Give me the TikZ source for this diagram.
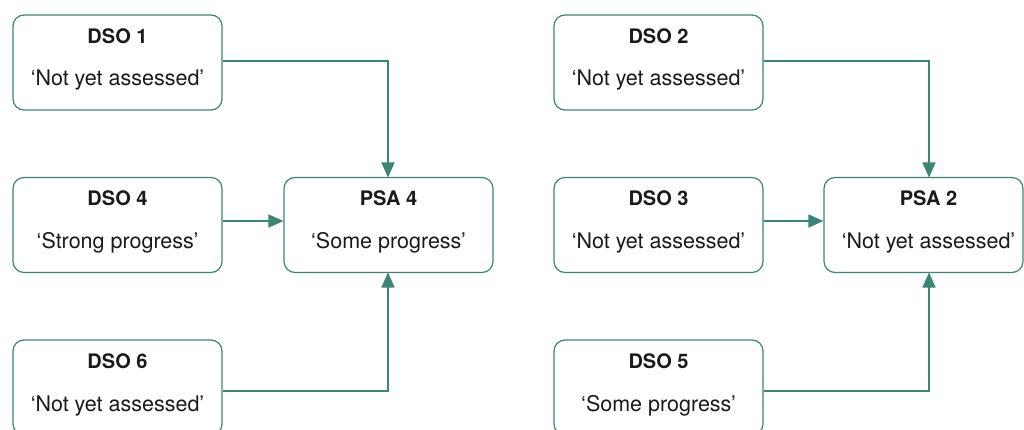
\documentclass[tikz,border=0pt]{standalone}
\usepackage{fontspec}
\setmainfont{TeX Gyre Heros}
\usetikzlibrary{arrows.meta}
\definecolor{teal}{HTML}{3B8575}
\definecolor{ink}{HTML}{1A1A1A}
\tikzset{
  box/.style={draw=teal, line width=1.2pt, rounded corners=11pt, fill=white,
              minimum width=209pt, minimum height=95pt, inner sep=0pt},
  ttl/.style={font=\fontsize{20}{22}\selectfont\bfseries, text=ink, inner sep=0pt},
  sub/.style={font=\fontsize{21.5}{24}\selectfont, text=ink, inner sep=0pt},
  link/.style={draw=teal, line width=1.6pt,
               -{Triangle[length=15pt,width=13pt]}},
}
\begin{document}
\begin{tikzpicture}[x=1pt,y=-1pt]
  \clip (0,0) rectangle (1024,430);
  \fill[white] (0,0) rectangle (1024,430);

  % left group
  \node[box] (d1) at (117.5,62.5) {};
  \node[ttl] (d1t) at (117.5,36) {DSO 1};
  \node[sub] (d1s) at (117.5,80) {‘Not yet assessed’};

  \node[box] (d4) at (117.5,225) {};
  \node[ttl] (d4t) at (117.5,198) {DSO 4};
  \node[sub] (d4s) at (117.5,243) {‘Strong progress’};

  \node[box] (d6) at (117.5,387.5) {};
  \node[ttl] (d6t) at (117.5,361) {DSO 6};
  \node[sub] (d6s) at (117.5,406) {‘Not yet assessed’};

  \node[box] (p4) at (388.5,225) {};
  \node[ttl] (p4t) at (388.5,198) {PSA 4};
  \node[sub] (p4s) at (388.5,243) {‘Some progress’};

  % right group
  \node[box] (d2) at (658.5,62.5) {};
  \node[ttl] (d2t) at (658.5,36) {DSO 2};
  \node[sub] (d2s) at (658.5,80) {‘Not yet assessed’};

  \node[box] (d3) at (658.5,225) {};
  \node[ttl] (d3t) at (658.5,198) {DSO 3};
  \node[sub] (d3s) at (658.5,243) {‘Not yet assessed’};

  \node[box] (d5) at (658.5,387.5) {};
  \node[ttl] (d5t) at (658.5,361) {DSO 5};
  \node[sub] (d5s) at (658.5,406) {‘Some progress’};

  \node[box, minimum width=199pt] (p2) at (923.5,225) {};
  \node[ttl] (p2t) at (928.5,198) {PSA 2};
  \node[sub] (p2s) at (928.5,243) {‘Not yet assessed’};

  % connectors
  \coordinate (p4top) at (388,177.5);
  \coordinate (p4bot) at (388,272.5);
  \coordinate (p2top) at (929,177.5);
  \coordinate (p2bot) at (929,272.5);

  \draw[link] ([yshift=1.5pt]d1.east) -| (p4top);
  \draw[link] ([yshift=4pt]d4.east) -- ([yshift=4pt]p4.west);
  \draw[link] ([yshift=-3.5pt]d6.east) -| (p4bot);

  \draw[link] ([yshift=1.5pt]d2.east) -| (p2top);
  \draw[link] ([yshift=4pt]d3.east) -- ([yshift=4pt]p2.west);
  \draw[link] ([yshift=-3.5pt]d5.east) -| (p2bot);
\end{tikzpicture}
\end{document}
